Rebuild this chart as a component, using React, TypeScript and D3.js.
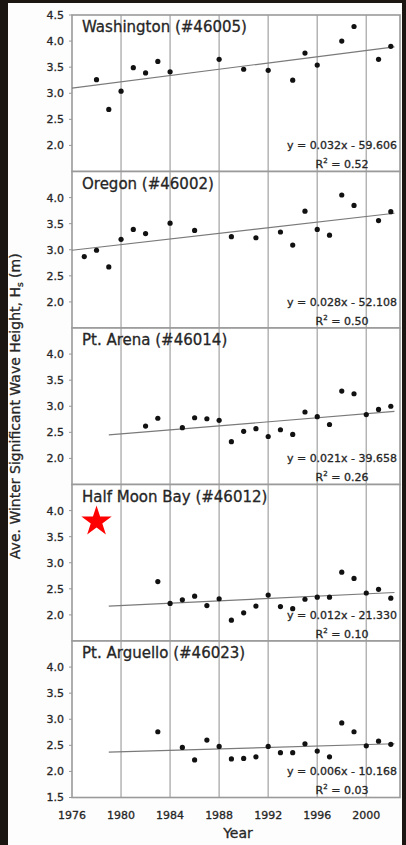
import React from "react";
import * as d3 from "d3";

// ---- Data ----
const stationNames = [
  "Washington (#46005)",
  "Oregon (#46002)",
  "Pt. Arena (#46014)",
  "Half Moon Bay (#46012)",
  "Pt. Arguello (#46023)",
];

const washingtonYears = [1978, 1979, 1980, 1981, 1982, 1983, 1984, 1988, 1990, 1992, 1994, 1995, 1996, 1998, 1999, 2001, 2002];
const washingtonValues = [3.26, 2.69, 3.04, 3.49, 3.39, 3.61, 3.41, 3.65, 3.46, 3.44, 3.25, 3.77, 3.54, 4.0, 4.28, 3.65, 3.9];

const oregonYears = [1977, 1978, 1979, 1980, 1981, 1982, 1984, 1986, 1989, 1991, 1993, 1994, 1995, 1996, 1997, 1998, 1999, 2001, 2002];
const oregonValues = [2.87, 2.99, 2.67, 3.2, 3.39, 3.31, 3.51, 3.37, 3.25, 3.23, 3.34, 3.09, 3.74, 3.39, 3.28, 4.05, 3.85, 3.56, 3.73];

const arenaYears = [1982, 1983, 1985, 1986, 1987, 1988, 1989, 1990, 1991, 1992, 1993, 1994, 1995, 1996, 1997, 1998, 1999, 2000, 2001, 2002];
const arenaValues = [2.62, 2.77, 2.59, 2.78, 2.76, 2.73, 2.32, 2.52, 2.57, 2.42, 2.55, 2.46, 2.89, 2.8, 2.65, 3.29, 3.24, 2.84, 2.94, 3.0];

const halfMoonYears = [1983, 1984, 1985, 1986, 1987, 1988, 1989, 1990, 1991, 1992, 1993, 1994, 1995, 1996, 1997, 1998, 1999, 2000, 2001, 2002];
const halfMoonValues = [2.64, 2.22, 2.29, 2.36, 2.18, 2.31, 1.9, 2.04, 2.17, 2.38, 2.16, 2.12, 2.3, 2.34, 2.34, 2.82, 2.7, 2.42, 2.49, 2.32];

const arguelloYears = [1983, 1985, 1986, 1987, 1988, 1989, 1990, 1991, 1992, 1993, 1994, 1995, 1996, 1997, 1998, 1999, 2000, 2001, 2002];
const arguelloValues = [2.76, 2.46, 2.22, 2.6, 2.48, 2.24, 2.25, 2.28, 2.48, 2.36, 2.36, 2.53, 2.39, 2.28, 2.93, 2.76, 2.49, 2.58, 2.52];

// trend line endpoints: [startYear, startValue, endYear, endValue]
const trendLines = [
  [1976, 3.1, 2002.3, 3.89],
  [1976, 2.99, 2002.3, 3.7],
  [1979, 2.45, 2002.3, 2.9],
  [1979, 2.17, 2002.3, 2.43],
  [1979, 2.37, 2002.3, 2.53],
];

const equations = [
  "y = 0.032x - 59.606",
  "y = 0.028x - 52.108",
  "y = 0.021x - 39.658",
  "y = 0.012x - 21.330",
  "y = 0.006x - 10.168",
];
const rSquared = ["0.52", "0.50", "0.26", "0.10", "0.03"];

const yTicksTop = [2.0, 2.5, 3.0, 3.5, 4.0, 4.5];
const yTicksMiddle = [2.0, 2.5, 3.0, 3.5, 4.0];
const yTicksBottom = [1.5, 2.0, 2.5, 3.0, 3.5, 4.0];

const xTicks = [1976, 1980, 1984, 1988, 1992, 1996, 2000];
const gridYears = [1980, 1984, 1988, 1992, 1996, 2000];

const starPoint = { panel: 3, year: 1978, value: 3.79 };

// ---- Layout ----
const W = 406;
const H = 845;
const plotLeft = 72;
const plotRight = 400;
const panelTop0 = 15;
const panelH = 156.5;
const FONT = "'DejaVu Sans', 'Liberation Sans', Arial, sans-serif";
const TEXT_FILL = "#262626";
const TEXT_STROKE = { stroke: "#262626", strokeWidth: 0.3 };

export default function App() {
  const x = d3.scaleLinear().domain([1976, 2002.75]).range([plotLeft, plotRight]);

  const series = [
    { years: washingtonYears, values: washingtonValues },
    { years: oregonYears, values: oregonValues },
    { years: arenaYears, values: arenaValues },
    { years: halfMoonYears, values: halfMoonValues },
    { years: arguelloYears, values: arguelloValues },
  ];

  const yTicksFor = (i: number) => (i === 0 ? yTicksTop : i === 4 ? yTicksBottom : yTicksMiddle);
  const lineGen = d3.line<[number, number]>();
  const bottomY = panelTop0 + panelH * 5;

  return (
    <svg width={W} height={H} style={{ position: "absolute", left: 0, top: 0, display: "block" }}>
      <rect x={0} y={0} width={W} height={H} fill="#1c1612" />
      <rect x={8} y={3} width={394} height={H - 3} fill="#fdfdfd" />

      {series.map((s, i) => {
        const top = panelTop0 + i * panelH;
        const y = d3.scaleLinear().domain([1.5, 4.5]).range([top + panelH, top]);
        const [sx, sv, ex, ev] = trendLines[i];
        const ticks = yTicksFor(i);
        return (
          <g key={i}>
            <rect x={plotLeft} y={top} width={plotRight - plotLeft} height={panelH} fill="#ffffff" />
            {gridYears.map((g) => (
              <line key={g} x1={x(g)} x2={x(g)} y1={top} y2={top + panelH} stroke="#b4b4b4" strokeWidth={1.5} />
            ))}
            <rect x={plotLeft} y={top} width={plotRight - plotLeft} height={panelH} fill="none" stroke="#9a9a9a" strokeWidth={1.6} />
            {ticks.map((t) => (
              <g key={t}>
                <line x1={plotLeft - 3} x2={plotLeft} y1={y(t)} y2={y(t)} stroke="#999" strokeWidth={1} />
                <text x={64} y={y(t)} dy="0.36em" textAnchor="end" fontFamily={FONT} fontSize={11} fill={TEXT_FILL} {...TEXT_STROKE}>
                  {t.toFixed(1)}
                </text>
              </g>
            ))}
            <path
              d={lineGen([
                [x(sx), y(sv)],
                [x(ex), y(ev)],
              ]) || ""}
              stroke="#7a7a7a"
              strokeWidth={1.2}
              fill="none"
            />
            {s.years.map((yr, j) => (
              <circle key={yr} cx={x(yr)} cy={y(s.values[j])} r={2.6} fill="#111" />
            ))}
            <text x={82} y={top + 17} fontFamily={FONT} fontSize={15} fill={TEXT_FILL} {...TEXT_STROKE}>
              {stationNames[i]}
            </text>
            <text x={342} y={top + 134} textAnchor="middle" fontFamily={FONT} fontSize={11} fill={TEXT_FILL} {...TEXT_STROKE}>
              {equations[i]}
            </text>
            <text x={342} y={top + 153} textAnchor="middle" fontFamily={FONT} fontSize={11} fill={TEXT_FILL} {...TEXT_STROKE}>
              R
              <tspan fontSize={7} dy={-5}>2</tspan>
              <tspan dy={5}>{" = " + rSquared[i]}</tspan>
            </text>
            {starPoint.panel === i && (
              <path
                transform={`translate(${x(starPoint.year)},${y(starPoint.value)})`}
                d={d3.symbol(d3.symbolStar, 285)() || ""}
                fill="#ff0000"
              />
            )}
          </g>
        );
      })}

      {xTicks.map((t) => (
        <text key={t} x={x(t)} y={bottomY + 21} textAnchor="middle" fontFamily={FONT} fontSize={11} fill={TEXT_FILL} {...TEXT_STROKE}>
          {t}
        </text>
      ))}
      <text x={238} y={838} textAnchor="middle" fontFamily={FONT} fontSize={14} fill={TEXT_FILL} {...TEXT_STROKE}>
        Year
      </text>
      <text transform={`translate(20,${(panelTop0 + bottomY) / 2}) rotate(-90)`} textAnchor="middle" fontFamily={FONT} fontSize={14} fill={TEXT_FILL} {...TEXT_STROKE}>
        Ave. Winter Significant Wave Height, H
        <tspan fontSize={9} dy={3}>s</tspan>
        <tspan dy={-3}> (m)</tspan>
      </text>
    </svg>
  );
}
